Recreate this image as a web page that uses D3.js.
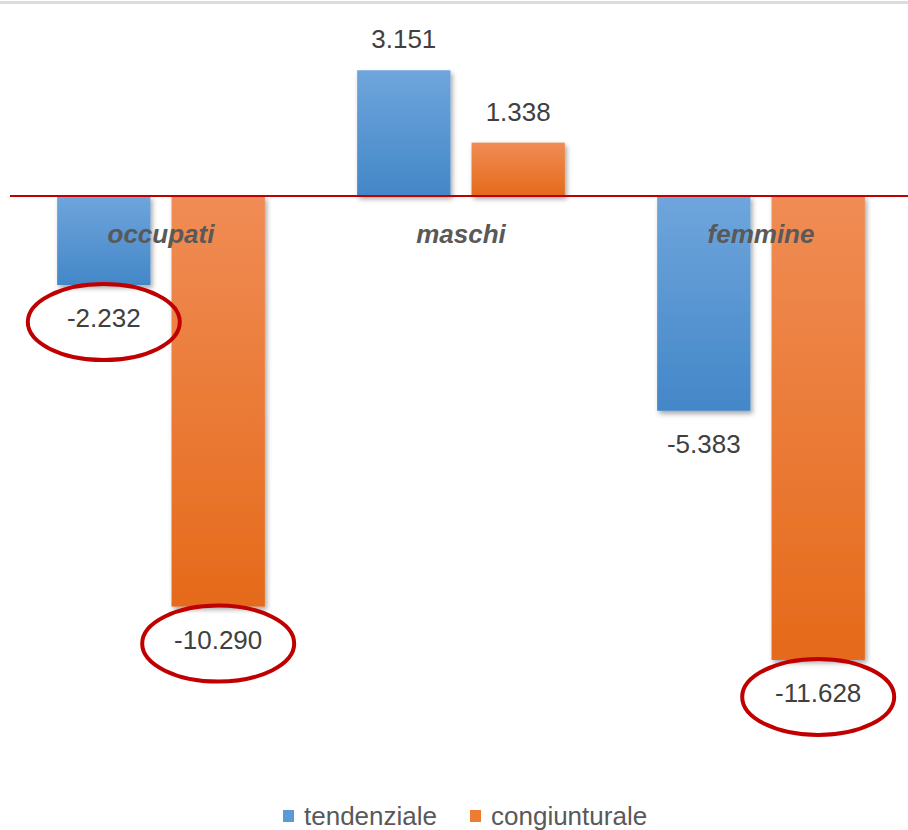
<!DOCTYPE html>
<html>
<head>
<meta charset="utf-8">
<script src="https://cdn.jsdelivr.net/npm/d3@7"></script>
<style>
  body { margin: 0; background: #fff; }
  svg { display: block; font-family: "Liberation Sans", Arial, sans-serif; }
</style>
</head>
<body>
<script>
// categories and series
var groups = ["occupati", "maschi", "femmine"];
var series = ["tendenziale", "congiunturale"];
var tendenziale = [-2.232, 3.151, -5.383];
var congiunturale = [-10.290, 1.338, -11.628];
var labels = [["-2.232", "-10.290"], ["3.151", "1.338"], ["-5.383", "-11.628"]];
// labels circled in red: [group index, series index]
var circled = [[0, 0], [0, 1], [2, 1]];

var width = 908, height = 830;
var zeroY = 196, unit = 39.9;

var svg = d3.select("body").append("svg")
  .attr("width", width)
  .attr("height", height);

var defs = svg.append("defs");

// gradients for the bars
var grads = [
  {id: "gBlue", top: "#6fa5dc", bot: "#4387c8"},
  {id: "gOrange", top: "#f08c55", bot: "#e56a1a"}
];
grads.forEach(function(g) {
  var lg = defs.append("linearGradient")
    .attr("id", g.id)
    .attr("x1", 0).attr("y1", 0).attr("x2", 0).attr("y2", 1);
  lg.append("stop").attr("offset", "0%").attr("stop-color", g.top);
  lg.append("stop").attr("offset", "100%").attr("stop-color", g.bot);
});

defs.append("filter")
  .attr("id", "shadow")
  .attr("x", "-20%").attr("y", "-20%").attr("width", "140%").attr("height", "140%")
  .append("feDropShadow")
  .attr("dx", 2).attr("dy", 3)
  .attr("stdDeviation", 2.5)
  .attr("flood-color", "#000")
  .attr("flood-opacity", 0.35);

var x0 = d3.scaleBand()
  .domain(groups)
  .range([11, 911]);

var x1 = d3.scaleBand()
  .domain(series)
  .range([0, x0.bandwidth()])
  .paddingInner(0.184)
  .paddingOuter(0.4035);

var y = d3.scaleLinear()
  .domain([-12, 4])
  .range([zeroY + 12 * unit, zeroY - 4 * unit]);

var color = {tendenziale: "url(#gBlue)", congiunturale: "url(#gOrange)"};
var legendColor = {tendenziale: "#5b9bd5", congiunturale: "#ed7d31"};

// top border line
svg.append("rect")
  .attr("x", 0).attr("y", 1)
  .attr("width", width).attr("height", 3)
  .attr("fill", "#dcdcdc");

var data = [];
groups.forEach(function(g, i) {
  data.push({group: g, gi: i, series: "tendenziale", si: 0, value: tendenziale[i], label: labels[i][0]});
  data.push({group: g, gi: i, series: "congiunturale", si: 1, value: congiunturale[i], label: labels[i][1]});
});

// bars
svg.append("g").selectAll("rect")
  .data(data)
  .enter().append("rect")
    .attr("x", function(d) { return x0(d.group) + x1(d.series); })
    .attr("y", function(d) { return y(Math.max(0, d.value)); })
    .attr("width", x1.bandwidth())
    .attr("height", function(d) { return Math.abs(y(d.value) - y(0)); })
    .attr("fill", function(d) { return color[d.series]; })
    .attr("filter", "url(#shadow)");

// zero line
svg.append("line")
  .attr("x1", 10).attr("x2", width)
  .attr("y1", y(0)).attr("y2", y(0))
  .attr("stroke", "#c00000")
  .attr("stroke-width", 2);

// category labels
svg.append("g").selectAll("text")
  .data(groups)
  .enter().append("text")
    .attr("x", function(d) { return x0(d) + x0.bandwidth() / 2; })
    .attr("y", y(0) + 47)
    .attr("text-anchor", "middle")
    .style("font-size", "26px")
    .style("font-weight", "bold")
    .style("font-style", "italic")
    .style("fill", "#595959")
    .text(function(d) { return d; });

// value labels
function labelY(d) {
  return d.value >= 0 ? y(d.value) - 22 : y(d.value) + 42;
}
svg.append("g").selectAll("text")
  .data(data)
  .enter().append("text")
    .attr("x", function(d) { return x0(d.group) + x1(d.series) + x1.bandwidth() / 2; })
    .attr("y", labelY)
    .attr("text-anchor", "middle")
    .style("font-size", "26px")
    .style("fill", "#404040")
    .text(function(d) { return d.label; });

// red ellipses round the highlighted labels
svg.append("g").selectAll("ellipse")
  .data(circled.map(function(c) { return data[c[0] * 2 + c[1]]; }))
  .enter().append("ellipse")
    .attr("cx", function(d) { return x0(d.group) + x1(d.series) + x1.bandwidth() / 2; })
    .attr("cy", function(d) { return labelY(d) - 5; })
    .attr("rx", 76)
    .attr("ry", 38)
    .attr("fill", "none")
    .attr("stroke", "#c00000")
    .attr("stroke-width", 4);

// legend
var legend = svg.append("g").attr("transform", "translate(283,825)");
var lx = [0, 187];
series.forEach(function(s, i) {
  legend.append("rect")
    .attr("x", lx[i]).attr("y", -15)
    .attr("width", 11).attr("height", 12)
    .attr("fill", legendColor[s]);
  legend.append("text")
    .attr("x", lx[i] + 21).attr("y", 0)
    .style("font-size", "26px")
    .style("fill", "#595959")
    .text(s);
});
</script>
</body>
</html>
